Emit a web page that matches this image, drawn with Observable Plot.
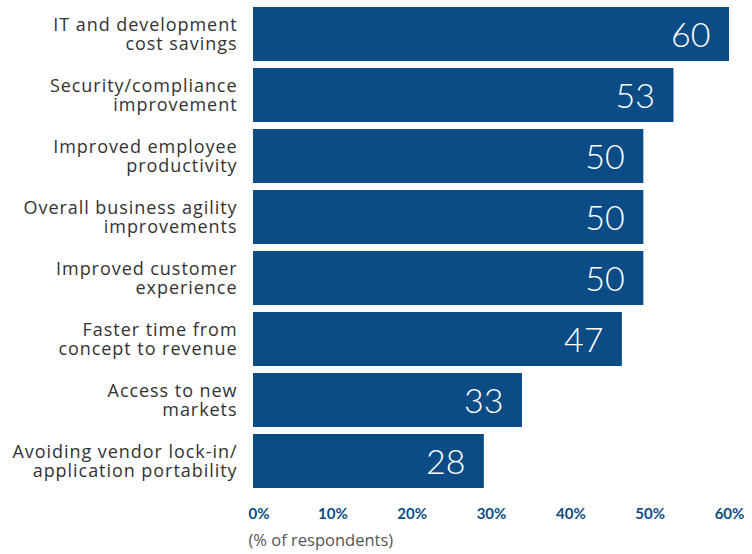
<!DOCTYPE html>
<html>
<head>
<meta charset="utf-8">
<script src="https://cdn.jsdelivr.net/npm/d3@7"></script>
<script src="https://cdn.jsdelivr.net/npm/@observablehq/plot@0.6"></script>
<style>
  html, body { margin: 0; padding: 0; background: #fff; }
  svg { display: block; }
  g[aria-label="y-axis tick label"] text { letter-spacing: 0.95px; }
</style>
</head>
<body>
<div id="chart"></div>
<script>
const categories = [
  "IT and development\ncost savings",
  "Security/compliance\nimprovement",
  "Improved employee\nproductivity",
  "Overall business agility\nimprovements",
  "Improved customer\nexperience",
  "Faster time from\nconcept to revenue",
  "Access to new\nmarkets",
  "Avoiding vendor lock-in/\napplication portability"
];
const values = [60, 53, 49.2, 49.2, 49.2, 46.5, 33.9, 29.1];
const valueLabels = ["60", "53", "50", "50", "50", "47", "33", "28"];
const xTicks = [0, 10, 20, 30, 40, 50, 60];
const axisNote = "(% of respondents)";

const data = categories.map((c, i) => ({category: c, value: values[i], label: valueLabels[i]}));
const blue = "#0b4c86";

const chart = Plot.plot({
  width: 752,
  height: 554,
  marginLeft: 253,
  marginRight: 23,
  marginTop: 6,
  marginBottom: 65,
  style: {fontFamily: "'Open Sans', Lato, sans-serif", background: "#fff"},
  x: {domain: [0, 60], axis: null},
  y: {domain: categories, padding: 0.12, paddingOuter: 0, axis: null},
  marks: [
    Plot.barX(data, {x: "value", y: "category", fill: blue}),
    Plot.text(data, {
      x: "value", y: "category", text: "label",
      textAnchor: "end", dx: -19, dy: 2,
      fill: "white", fontSize: 34, fontWeight: 300, fontFamily: "Lato, sans-serif"
    }),
    Plot.axisY({
      tickSize: 0, tickPadding: 16, fontSize: 18, lineHeight: 1.06,
      color: "#333", label: null
    }),
    Plot.axisX(xTicks.filter(t => t > 0), {
      tickSize: 0, tickPadding: 19, fontSize: 15, fontWeight: "bold",
      color: blue, label: null, tickFormat: d => d + "%", fontFamily: "Lato, sans-serif"
    }),
    Plot.axisX([0], {
      tickSize: 0, tickPadding: 19, fontSize: 15, fontWeight: "bold",
      color: blue, label: null, textAnchor: "start", dx: -5, tickFormat: d => d + "%",
      fontFamily: "Lato, sans-serif"
    }),
    Plot.text([axisNote], {
      frameAnchor: "bottom-left", text: d => d, textAnchor: "start",
      dx: -5, dy: 56, fontSize: 16.5, fill: "#555"
    })
  ]
});
document.getElementById("chart").appendChild(chart);
</script>
</body>
</html>
